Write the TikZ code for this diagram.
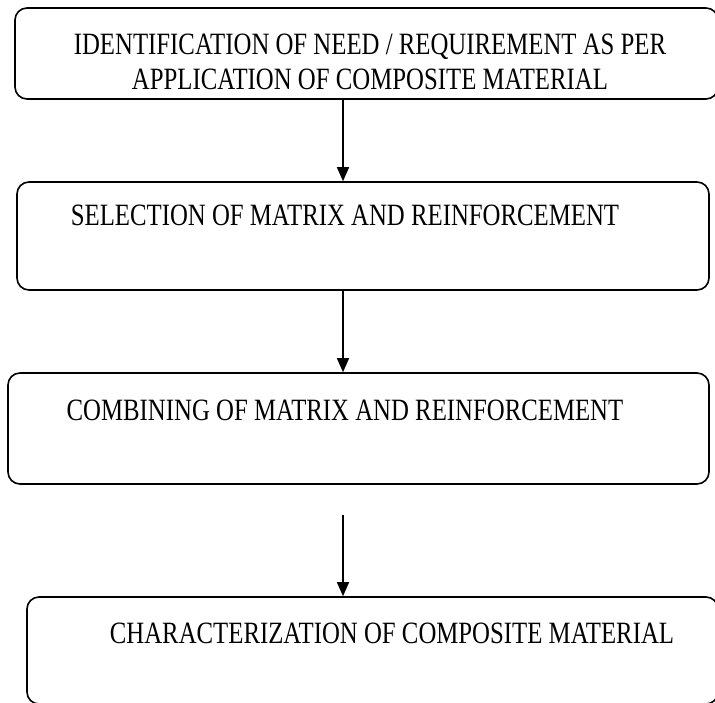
\documentclass[tikz,border=0pt]{standalone}
\usepackage{fontspec}
\setmainfont{Liberation Serif}[FakeStretch=0.8]
\usetikzlibrary{arrows.meta}
\begin{document}
\begin{tikzpicture}[x=1pt,y=-1pt,
  box/.style={draw=black,line width=1.6pt,rounded corners=12pt,rectangle,inner sep=0pt},
  lbl/.style={font=\fontsize{31}{35}\selectfont,inner sep=0pt,align=center,text=black},
  arr/.style={line width=1.5pt,-{Triangle[length=14pt,width=12pt]}}]
\useasboundingbox (0,0) rectangle (715,702);
\node[box,minimum width=703pt,minimum height=91pt] (b1) at (366.5,53.5) {};
\node[box,minimum width=692pt,minimum height=108pt] (b2) at (363,236) {};
\node[box,minimum width=701pt,minimum height=111pt] (b3) at (358.5,428.5) {};
\node[box,minimum width=691pt,minimum height=107pt] (b4) at (372.5,650.5) {};
\node[lbl] (t1) at (370,62) {IDENTIFICATION OF NEED / REQUIREMENT AS PER\\APPLICATION OF COMPOSITE MATERIAL};
\node[lbl] (t2) at (345,215) {SELECTION OF MATRIX AND REINFORCEMENT};
\node[lbl] (t3) at (345,410) {COMBINING OF MATRIX AND REINFORCEMENT};
\node[lbl] (t4) at (392,633) {CHARACTERIZATION OF COMPOSITE MATERIAL};
\coordinate (ax) at (343,0);
\coordinate (s3) at (343,515);
\draw[arr] (b1.south -| ax) -- (b2.north -| ax);
\draw[arr] (b2.south -| ax) -- (b3.north -| ax);
\draw[arr] (s3) -- (b4.north -| ax);
\end{tikzpicture}
\end{document}
